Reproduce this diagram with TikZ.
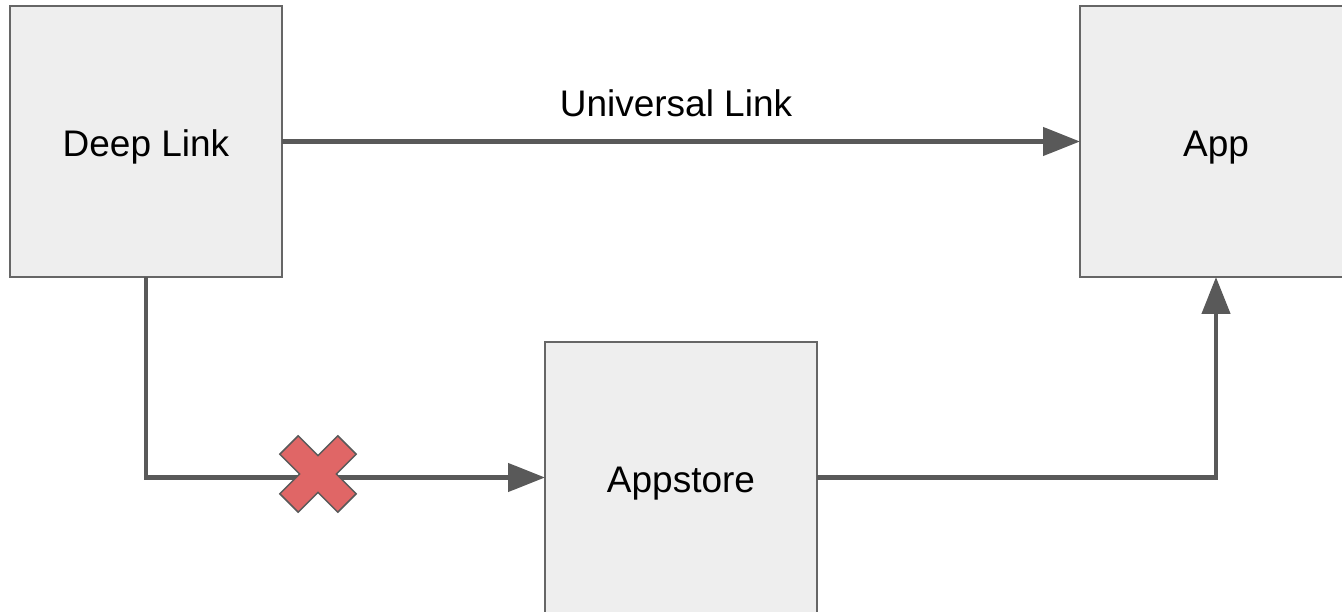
\documentclass[tikz,border=0pt]{standalone}
\usepackage{fontspec}
\setmainfont{Liberation Sans}
\usetikzlibrary{arrows.meta}
\definecolor{linegray}{HTML}{595959}
\definecolor{boxborder}{HTML}{666666}
\definecolor{boxfill}{HTML}{EEEEEE}
\definecolor{crossred}{HTML}{E06666}
\tikzset{
  box/.style={draw=boxborder, line width=1.5pt, fill=boxfill, rectangle,
    minimum width=272pt, minimum height=271pt, inner sep=0pt, outer sep=0pt,
    text height=30pt, text depth=0pt,
    font=\fontsize{37}{44}\selectfont},
  conn/.style={draw=linegray, line width=4.5pt,
    -{Triangle[length=37pt,width=28pt]}},
  lbl/.style={font=\fontsize{37}{44}\selectfont, inner sep=0pt},
}
\begin{document}
\begin{tikzpicture}[x=1pt,y=-1pt]
\useasboundingbox (0,0) rectangle (1342,612);
\clip (0,0) rectangle (1342,612);
\node[box] (dl) at (146,141.5) {Deep Link};
\node[box] (app) at (1216,141.5) {App};
\node[box] (as) at (681,477.5) {Appstore};
\draw[conn] (dl.east) -- node[lbl, anchor=base, yshift=24.5pt, xshift=-5pt] (ul) {Universal Link} (app.west);
\draw[conn] (dl.south) |- (as.west);
\draw[conn] (as.east) -| (app.south);
\begin{scope}[shift={(318,474)}, rotate=45]
\filldraw[fill=crossred, draw=linegray, line width=1.5pt, line join=miter]
  (13,41) -- (13,13) -- (41,13) -- (41,-13) -- (13,-13) -- (13,-41)
  -- (-13,-41) -- (-13,-13) -- (-41,-13) -- (-41,13) -- (-13,13) -- (-13,41) -- cycle;
\end{scope}
\end{tikzpicture}
\end{document}
